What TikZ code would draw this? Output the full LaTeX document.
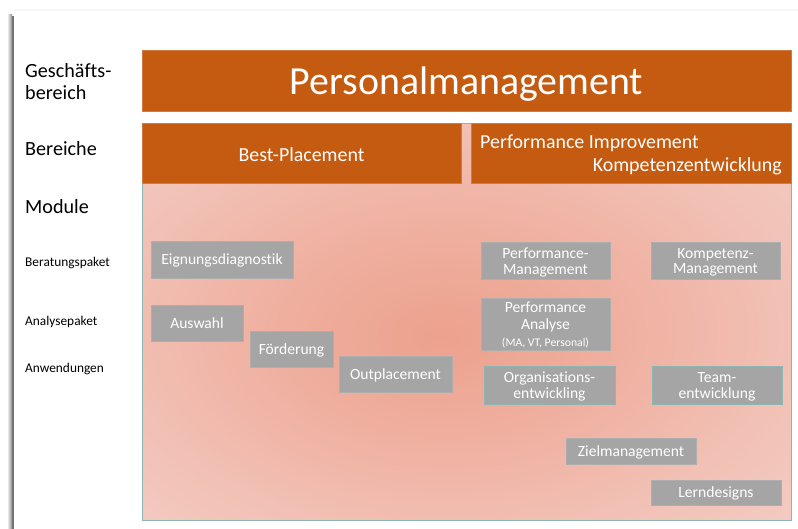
\documentclass[tikz,border=0pt]{standalone}
\usepackage{fontspec}
\setmainfont{Carlito}[Ligatures=NoCommon]
\definecolor{bar}{HTML}{C55A11}
\definecolor{gbox}{HTML}{A5A5A5}
\definecolor{ga}{HTML}{ECA18D}
\definecolor{gb}{HTML}{EFAE9E}
\definecolor{gc}{HTML}{F2C3B8}
\definecolor{gd}{HTML}{F5D2CA}
\definecolor{ge}{HTML}{F7DBD5}
\definecolor{frame}{HTML}{8FB4B4}
\pgfdeclareradialshading{pinkglow}{\pgfpoint{-2bp}{-2bp}}{color(0bp)=(ga); color(12bp)=(gb); color(28bp)=(gc); color(42bp)=(gd); color(60bp)=(ge); color(72bp)=(ge)}
\begin{document}
\begin{tikzpicture}[x=0.03cm,y=-0.03cm,
  barbox/.style={draw=bar!80!white, line width=0.4pt, fill=bar, text=white, inner sep=0pt, anchor=center, text depth=0pt},
  modbox/.style={draw=gbox!90!white, line width=0.4pt, fill=gbox, text=white, inner sep=0pt, align=center, text depth=0pt, font=\fontsize{13.3}{13.6}\selectfont},
  lbl/.style={anchor=west, inner sep=0pt, align=left, font=\fontsize{17.2}{19.5}\selectfont},
  slbl/.style={anchor=west, inner sep=0pt, font=\fontsize{11.4}{12}\selectfont}]
\useasboundingbox (0,0) rectangle (798,529);
\fill[white] (0,0) rectangle (798,529);
% slide frame
\fill[black!3] (14,9) rectangle (798,11);
\shade[left color=white, right color=black!45] (7,14) rectangle (12,529);
\fill[black!55] (12,16) rectangle (14,529);
% gradient area
\shade[shading=pinkglow, draw=frame, line width=0.5pt] (142,123) rectangle (791,520);
% bars
\node[barbox, minimum width=19.47cm, minimum height=1.83cm, font=\fontsize{34}{36}\selectfont] (pm) at (466.5,80.5) {Personalmanagement};
\node[barbox, minimum width=9.57cm, minimum height=1.8cm] (bp) at (301.5,153) {};
\node[text=white, inner sep=0pt, font=\fontsize{17}{19}\selectfont] (bpt) at (301.5,155) {Best-Placement};
\node[barbox, minimum width=9.6cm, minimum height=1.8cm] (pi) at (631,153) {};
\node[text=white, inner sep=0pt, anchor=west, font=\fontsize{17}{19}\selectfont] (pit1) at (480,143) {Performance Improvement};
\node[text=white, inner sep=0pt, anchor=east, font=\fontsize{17}{19}\selectfont] (pit2) at (782,166) {Kompetenzentwicklung};
% left labels
\node[lbl] (l1) at (25,81.5) {Geschäfts-\\bereich};
\node[lbl] (l2) at (25,149) {Bereiche};
\node[lbl] (l3) at (25,207) {Module};
\node[slbl] (l4) at (25,263) {Beratungspaket};
\node[slbl] (l5) at (25,322) {Analysepaket};
\node[slbl] (l6) at (25,369) {Anwendungen};
% modules
\node[modbox, minimum width=4.26cm, minimum height=1.11cm] (eig) at (222,259.5) {Eignungsdiagnostik};
\node[modbox, minimum width=2.76cm, minimum height=1.08cm] (aus) at (197,323) {Auswahl};
\node[modbox, minimum width=2.49cm, minimum height=1.08cm] (foe) at (291.5,349) {Förderung};
\node[modbox, minimum width=3.39cm, minimum height=1.08cm] (out) at (395.5,374) {Outplacement};
\node[modbox, minimum width=3.87cm, minimum height=1.11cm] (pfm) at (545.5,261) {Performance-\\Management};
\node[modbox, minimum width=3.87cm, minimum height=1.11cm] (kpm) at (715.5,261) {Kompetenz-\\Management};
\node[modbox, minimum width=3.87cm, minimum height=1.56cm, font=\fontsize{13.3}{15.3}\selectfont] (pfa) at (545.5,324) {Performance\\Analyse\\[-1pt]{\fontsize{10}{11}\selectfont (MA, VT, Personal)}};
\node[modbox, draw=frame, minimum width=3.93cm, minimum height=1.14cm] (org) at (549.5,385.5) {Organisations-\\entwickling};
\node[modbox, draw=frame, minimum width=3.9cm, minimum height=1.14cm] (team) at (717,385.5) {Team-\\entwicklung};
\node[modbox, minimum width=3.9cm, minimum height=0.78cm] (ziel) at (631,451) {Zielmanagement};
\node[modbox, minimum width=3.9cm, minimum height=0.75cm] (lern) at (716,492.5) {Lerndesigns};
\end{tikzpicture}
\end{document}
